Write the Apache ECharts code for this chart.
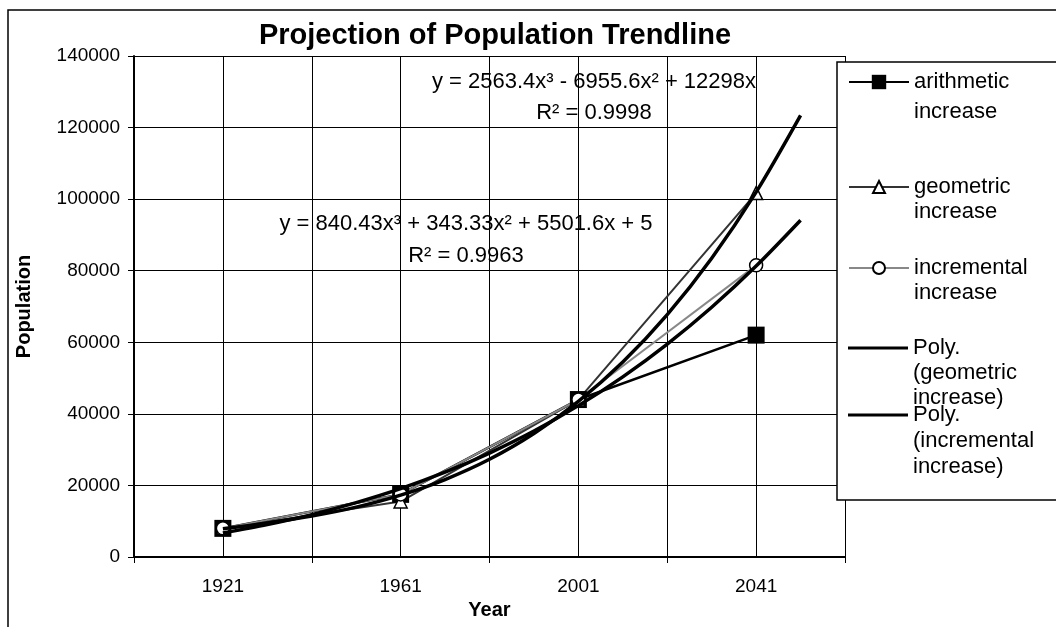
<!DOCTYPE html>
<html>
<head>
<meta charset="utf-8">
<script src="https://cdn.jsdelivr.net/npm/echarts@6/dist/echarts.min.js"></script>
<style>
  html, body { margin: 0; padding: 0; background: #fff; }
  #chart { width: 1056px; height: 627px; }
</style>
</head>
<body>
<div id="chart"></div>
<script>
  // census years (Excel category index 1..4)
  const years = [1921, 1961, 2001, 2041]
  const arithmetic = [8000, 17500, 44000, 62000]
  const geometric = [8000, 15500, 44000, 101700]
  const incremental = [8000, 17500, 44000, 81500]

  // trendline positions (category index) and values
  const trendX = [1, 1.25, 1.5, 1.75, 2, 2.25, 2.5, 2.75, 3, 3.25, 3.5, 3.75, 4, 4.25]
  const polyGeometric = [7900, 9500, 11450, 13950, 17300, 21650, 27300, 34500, 43500, 54500, 67750, 83500, 101950, 123400]
  const polyIncremental = [6700, 9050, 11850, 15200, 19100, 23700, 29050, 35200, 42300, 50350, 59500, 69800, 81300, 94100]

  const yTicks = [0, 20000, 40000, 60000, 80000, 100000, 120000, 140000]

  const names = [
    "arithmetic\nincrease",
    "geometric\nincrease",
    "incremental\nincrease",
    "Poly.\n(geometric\nincrease)",
    "Poly.\n(incremental\nincrease)"
  ]
  const eqGeometric = "y = 2563.4x³ - 6955.6x² + 12298x\nR² = 0.9998"
  const eqIncremental = "y = 840.43x³ + 343.33x² + 5501.6x + 5\nR² = 0.9963"

  const FONT = "Liberation Sans"

  const pairs = (xs, ys) => ys.map((v, i) => [xs[i], v])
  const idx = years.map((y, i) => i + 1)

  const chart = echarts.init(document.getElementById("chart"))

  // one legend per entry; blank lines in front keep the marker on the first text line
  const legendRows = [82, 187, 268, 348, 415]
  const legendLH = [30, 25, 25, 25, 26]
  const legends = names.map((n, i) => {
    const lines = n.split("\n").length
    const lh = legendLH[i]
    const poly = i > 2
    return {
      data: [poly ? { name: n, icon: "rect" } : n],
      orient: "vertical",
      left: 848,
      top: legendRows[i] - (lines - 0.5) * lh,
      padding: 0,
      itemWidth: 60,
      itemHeight: poly ? 3 : (i === 0 ? 18 : 15),
      itemGap: 0,
      selectedMode: false,
      z: 12,
      formatter: name => "\n".repeat(lines - 1) + name,
      textStyle: {
        fontFamily: FONT,
        fontSize: 22,
        color: "#000",
        lineHeight: lh
      }
    }
  })

  chart.setOption({
    animation: false,
    backgroundColor: "#fff",
    title: {
      text: "Projection of Population Trendline",
      left: 490,
      top: 16,
      textAlign: "center",
      textStyle: { fontFamily: FONT, fontSize: 29, fontWeight: "bold", color: "#000" }
    },
    legend: legends,
    grid: { left: 134, right: 211, top: 56, bottom: 70 },
    xAxis: [
      {
        type: "value",
        min: 0.5,
        max: 4.5,
        interval: 0.5,
        name: "Year",
        nameLocation: "middle",
        nameGap: 41,
        nameTextStyle: { fontFamily: FONT, fontSize: 20, fontWeight: "bold", color: "#000" },
        axisLine: { lineStyle: { color: "#000", width: 2 } },
        axisTick: { show: false },
        splitLine: { show: true, lineStyle: { color: "#000", width: 1 } },
        axisLabel: {
          margin: 20,
          fontFamily: FONT,
          fontSize: 19,
          color: "#000",
          formatter: v => Number.isInteger(v) ? String(years[v - 1]) : ""
        }
      },
      {
        // tick marks only, between the labelled years
        type: "value",
        min: 0.5,
        max: 4.5,
        interval: 1,
        position: "bottom",
        axisLine: { show: false },
        axisTick: { show: true, length: 6, lineStyle: { color: "#000", width: 1 } },
        axisLabel: { show: false },
        splitLine: { show: false }
      }
    ],
    yAxis: {
      type: "value",
      min: yTicks[0],
      max: yTicks[yTicks.length - 1],
      interval: yTicks[1] - yTicks[0],
      name: "Population",
      nameLocation: "middle",
      nameGap: 100,
      nameTextStyle: { fontFamily: FONT, fontSize: 20, fontWeight: "bold", color: "#000" },
      axisLine: { show: true, lineStyle: { color: "#000", width: 2 } },
      axisTick: { show: true, length: 6, lineStyle: { color: "#000" } },
      splitLine: { show: true, lineStyle: { color: "#000", width: 1 } },
      axisLabel: {
        margin: 14,
        fontFamily: FONT,
        fontSize: 19,
        color: "#000",
        formatter: v => String(v)
      }
    },
    graphic: [
      {
        type: "rect",
        z: 1,
        shape: { x: 8, y: 10, width: 1200, height: 800 },
        style: { fill: "none", stroke: "#000", lineWidth: 1.5 }
      },
      {
        type: "rect",
        z: 10,
        shape: { x: 837, y: 62, width: 300, height: 438 },
        style: { fill: "#fff", stroke: "#000", lineWidth: 1.5 }
      },
      {
        type: "text",
        z: 5,
        style: {
          text: eqGeometric, x: 594, y: 66, fill: "#000",
          font: "22px " + FONT, textAlign: "center", lineHeight: 31
        }
      },
      {
        type: "text",
        z: 5,
        style: {
          text: eqIncremental, x: 466, y: 208, fill: "#000",
          font: "22px " + FONT, textAlign: "center", lineHeight: 32
        }
      }
    ],
    series: [
      {
        name: names[0],
        type: "line",
        data: pairs(idx, arithmetic),
        symbol: "rect",
        symbolSize: 17,
        lineStyle: { color: "#000", width: 2.5 },
        itemStyle: { color: "#000" },
        z: 3
      },
      {
        name: names[1],
        type: "line",
        data: pairs(idx, geometric),
        symbol: "triangle",
        symbolSize: 13,
        lineStyle: { color: "#333", width: 2 },
        itemStyle: { color: "#fff", borderColor: "#000", borderWidth: 1.5 },
        z: 3
      },
      {
        name: names[2],
        type: "line",
        data: pairs(idx, incremental),
        symbol: "circle",
        symbolSize: 13,
        lineStyle: { color: "#888", width: 2 },
        itemStyle: { color: "#fff", borderColor: "#000", borderWidth: 1.5 },
        z: 3
      },
      {
        name: names[3],
        type: "line",
        data: pairs(trendX, polyGeometric),
        smooth: 0.3,
        showSymbol: false,
        symbol: "none",
        lineStyle: { color: "#000", width: 3.5 },
        itemStyle: { color: "#000" },
        z: 4
      },
      {
        name: names[4],
        type: "line",
        data: pairs(trendX, polyIncremental),
        smooth: 0.3,
        showSymbol: false,
        symbol: "none",
        lineStyle: { color: "#000", width: 3.5 },
        itemStyle: { color: "#000" },
        z: 4
      }
    ]
  })

  window.addEventListener("resize", () => {
    chart && chart.resize()
  })
</script>
</body>
</html>
